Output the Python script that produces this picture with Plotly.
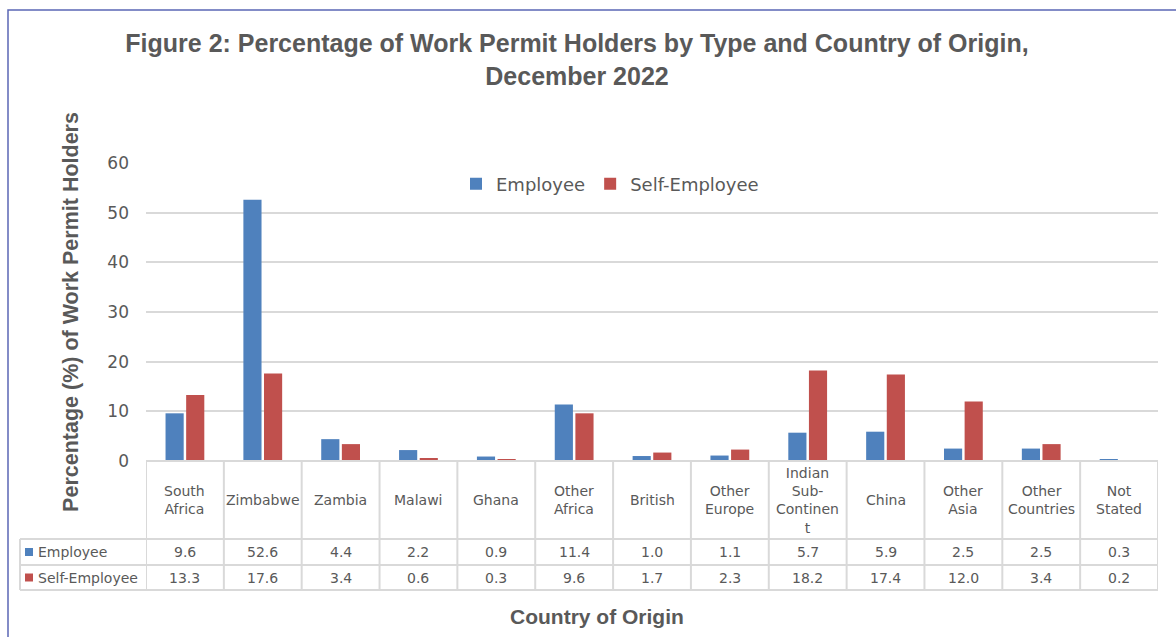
import plotly.graph_objects as go

# ---------------- data ----------------
categories = ["South Africa", "Zimbabwe", "Zambia", "Malawi", "Ghana", "Other Africa",
              "British", "Other Europe", "Indian Sub-Continent", "China", "Other Asia",
              "Other Countries", "Not Stated"]
header_labels = ["South<br>Africa", "Zimbabwe", "Zambia", "Malawi", "Ghana", "Other<br>Africa",
                 "British", "Other<br>Europe", "Indian<br>Sub-<br>Continen<br>t", "China",
                 "Other<br>Asia", "Other<br>Countries", "Not<br>Stated"]
employee = [9.6, 52.6, 4.4, 2.2, 0.9, 11.4, 1.0, 1.1, 5.7, 5.9, 2.5, 2.5, 0.3]
self_employee = [13.3, 17.6, 3.4, 0.6, 0.3, 9.6, 1.7, 2.3, 18.2, 17.4, 12.0, 3.4, 0.2]
series_names = ["Employee", "Self-Employee"]
series_colors = ["#4F81BD", "#C0504D"]
y_ticks = [0, 10, 20, 30, 40, 50, 60]

title_text = ("Figure 2: Percentage of Work Permit Holders by Type and Country of Origin,"
              "<br>December 2022")
y_title = "Percentage (%) of Work Permit Holders"
x_title = "Country of Origin"

# ---------------- layout geometry ----------------
FIG_W, FIG_H = 1176, 637
L, R, T, B = 146, 18, 163, 176
PW = FIG_W - L - R
PH = FIG_H - T - B

def px_x(px):
    return (px - L) / PW

def px_y(py):
    return (FIG_H - B - py) / PH

TXT = "#595959"
GRID = "#D9D9D9"
TFONT = "DejaVu Sans"
BFONT = "Liberation Sans, Arial"

fig = go.Figure()
for name, vals, col in zip(series_names, [employee, self_employee], series_colors):
    fig.add_trace(go.Bar(x=categories, y=vals, name=name, marker=dict(color=col, line=dict(width=0))))

shapes = []
annotations = []

# outer frame
shapes.append(dict(type="rect", xref="paper", yref="paper",
                   x0=px_x(8), x1=px_x(1190), y0=px_y(650), y1=px_y(10),
                   line=dict(color="#5B67B5", width=1.5), layer="below"))

# table geometry
row_tops = [461, 539, 565, 590]
shapes.append(dict(type="line", xref="paper", yref="paper", x0=0, x1=1,
                   y0=px_y(row_tops[0]), y1=px_y(row_tops[0]), line=dict(color=GRID, width=2)))
for ry in row_tops[1:]:
    shapes.append(dict(type="line", xref="paper", yref="paper", x0=px_x(20), x1=1,
                       y0=px_y(ry), y1=px_y(ry), line=dict(color=GRID, width=2)))
for i in range(len(categories) + 1):
    shapes.append(dict(type="line", xref="x", yref="paper", x0=i - 0.5, x1=i - 0.5,
                       y0=px_y(row_tops[0]), y1=px_y(row_tops[3]), line=dict(color=GRID, width=2)))
shapes.append(dict(type="line", xref="paper", yref="paper", x0=px_x(20), x1=px_x(20),
                   y0=px_y(row_tops[1]), y1=px_y(row_tops[3]), line=dict(color=GRID, width=2)))

# header labels
for cat, lab in zip(categories, header_labels):
    annotations.append(dict(x=cat, xref="x", y=px_y(500), yref="paper", text=lab,
                            showarrow=False, xanchor="center", yanchor="middle",
                            font=dict(family=TFONT, size=14, color=TXT)))

# value rows
for r, (name, vals, col) in enumerate(zip(series_names, [employee, self_employee], series_colors)):
    yc = px_y((row_tops[r + 1] + row_tops[r + 2]) / 2)
    for cat, v in zip(categories, vals):
        annotations.append(dict(x=cat, xref="x", y=yc, yref="paper", text=f"{v:.1f}",
                                showarrow=False, xanchor="center", yanchor="middle",
                                font=dict(family=TFONT, size=14, color=TXT)))
    shapes.append(dict(type="rect", xref="paper", yref="paper",
                       x0=px_x(25), x1=px_x(33), y0=yc - 4 / PH, y1=yc + 4 / PH,
                       fillcolor=col, line=dict(width=0)))
    annotations.append(dict(x=px_x(36), xref="paper", y=yc, yref="paper", text=name,
                            showarrow=False, xanchor="left", yanchor="middle",
                            font=dict(family=TFONT, size=14, color=TXT)))

# x axis title
annotations.append(dict(x=px_x(597), xref="paper", y=px_y(616), yref="paper", text=x_title,
                        showarrow=False, xanchor="center", yanchor="middle",
                        font=dict(family=BFONT, size=21, color=TXT, weight="bold")))

fig.update_layout(
    width=FIG_W, height=FIG_H, autosize=False,
    margin=dict(l=L, r=R, t=T, b=B),
    paper_bgcolor="white", plot_bgcolor="white",
    title=dict(text=title_text, x=577 / FIG_W, xanchor="center", y=1 - 52 / FIG_H, yanchor="middle",
               font=dict(family=BFONT, size=25, color=TXT, weight="bold")),
    barmode="group", bargap=0.47, bargroupgap=0.12,
    showlegend=True,
    legend=dict(orientation="h", x=px_x(610), xanchor="center", y=px_y(184), yanchor="middle",
                font=dict(family=TFONT, size=18, color=TXT), itemwidth=30,
                bgcolor="rgba(0,0,0,0)"),
    xaxis=dict(showticklabels=False, showgrid=False, zeroline=False, showline=False,
               ticks="", range=[-0.5, len(categories) - 0.5]),
    yaxis=dict(range=[0, 60], tickvals=y_ticks, showgrid=True, gridcolor=GRID, gridwidth=2,
               zeroline=False, showline=False, ticks="", ticklabelstandoff=16,
               tickfont=dict(family=TFONT, size=17, color=TXT),
               title=dict(text=y_title, standoff=22,
                          font=dict(family=BFONT, size=21.5, color=TXT, weight="bold"))),
    shapes=shapes, annotations=annotations,
)

fig.write_html("out.html", config={"displayModeBar": False},
               post_script="document.body.style.margin='0px';")
